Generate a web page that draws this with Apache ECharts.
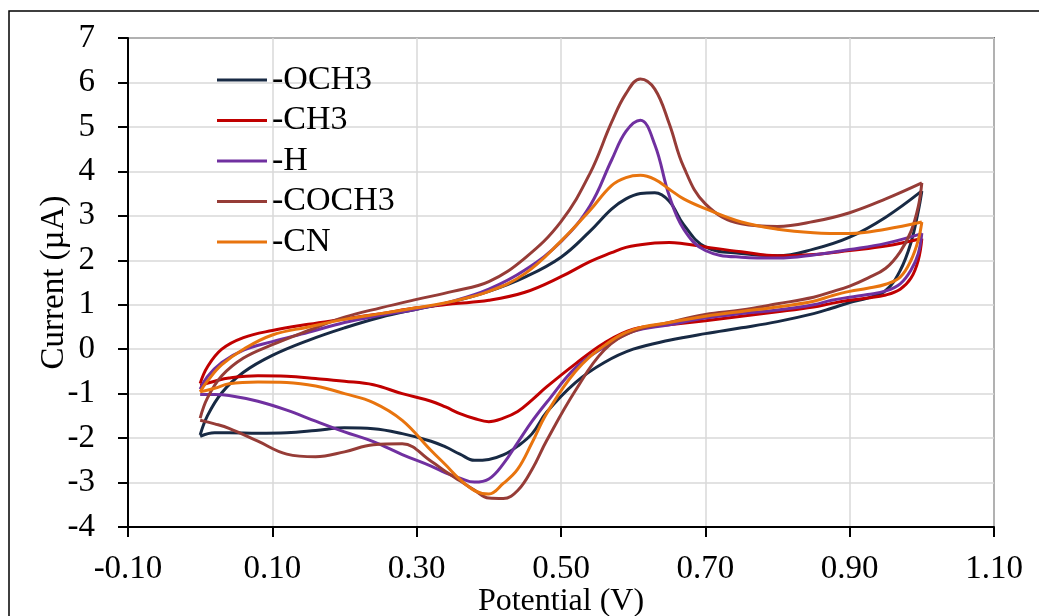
<!DOCTYPE html>
<html>
<head>
<meta charset="utf-8">
<script src="https://cdn.jsdelivr.net/npm/echarts@6/dist/echarts.min.js"></script>
<style>
  html, body { margin: 0; padding: 0; background: #fff; }
  #chart { width: 1039px; height: 616px; }
</style>
</head>
<body>
<div id="chart"></div>
<script>
// potential steps of the forward (oxidation) and reverse sweeps, V
const fwdPotential = [0, 0.01, 0.03, 0.06, 0.1, 0.15, 0.2, 0.25, 0.3, 0.35, 0.4, 0.45, 0.5, 0.54, 0.57, 0.59, 0.61, 0.63, 0.65, 0.67, 0.7, 0.75, 0.8, 0.85, 0.9, 0.95, 1.0];
const revPotential = [1.0, 0.995, 0.985, 0.97, 0.95, 0.925, 0.9, 0.875, 0.85, 0.8, 0.75, 0.7, 0.65, 0.6, 0.56, 0.52, 0.48, 0.46, 0.44, 0.42, 0.4, 0.38, 0.36, 0.34, 0.32, 0.28, 0.24, 0.2, 0.16, 0.12, 0.08, 0.04, 0.02, 0];

// currents, µA
const och3Fwd = [-1.93, -1.5, -0.98, -0.52, -0.14, 0.2, 0.48, 0.72, 0.9, 1.07, 1.3, 1.62, 2.07, 2.65, 3.15, 3.38, 3.5, 3.52, 3.33, 2.8, 2.3, 2.15, 2.1, 2.25, 2.52, 2.97, 3.56];
const och3Rev = [3.56, 3.1, 2.4, 1.77, 1.32, 1.15, 1.05, 0.92, 0.8, 0.62, 0.48, 0.35, 0.2, 0.0, -0.3, -0.75, -1.42, -1.9, -2.18, -2.38, -2.48, -2.5, -2.36, -2.2, -2.07, -1.9, -1.79, -1.77, -1.83, -1.88, -1.89, -1.88, -1.88, -1.96];

const ch3Fwd = [-0.77, -0.4, 0.0, 0.26, 0.42, 0.56, 0.68, 0.8, 0.93, 1.02, 1.1, 1.28, 1.63, 1.97, 2.17, 2.29, 2.35, 2.39, 2.4, 2.37, 2.3, 2.19, 2.1, 2.13, 2.22, 2.32, 2.49];
const ch3Rev = [2.49, 2.0, 1.6, 1.35, 1.22, 1.15, 1.1, 1.03, 0.95, 0.84, 0.74, 0.64, 0.55, 0.45, 0.14, -0.33, -0.85, -1.14, -1.4, -1.55, -1.63, -1.56, -1.45, -1.3, -1.17, -1.0, -0.8, -0.72, -0.66, -0.61, -0.6, -0.65, -0.72, -0.81];

const hFwd = [-0.9, -0.62, -0.3, -0.02, 0.17, 0.38, 0.6, 0.76, 0.9, 1.08, 1.35, 1.78, 2.42, 3.22, 4.25, 4.9, 5.15, 4.6, 3.45, 2.7, 2.22, 2.07, 2.05, 2.12, 2.24, 2.38, 2.6];
const hRev = [2.61, 2.15, 1.78, 1.47, 1.31, 1.23, 1.17, 1.1, 1.0, 0.88, 0.8, 0.7, 0.55, 0.4, 0.05, -0.42, -1.2, -1.62, -2.1, -2.58, -2.92, -2.99, -2.9, -2.78, -2.63, -2.37, -2.08, -1.86, -1.62, -1.37, -1.17, -1.04, -1.02, -1.02];

const coch3Fwd = [-1.55, -1.1, -0.6, -0.2, 0.1, 0.42, 0.72, 0.93, 1.12, 1.3, 1.52, 2.05, 2.87, 3.95, 5.1, 5.75, 6.08, 5.85, 5.07, 4.1, 3.27, 2.82, 2.76, 2.87, 3.07, 3.38, 3.74];
const coch3Rev = [3.74, 3.2, 2.65, 2.19, 1.82, 1.6, 1.42, 1.29, 1.17, 1.02, 0.88, 0.78, 0.6, 0.4, -0.02, -0.93, -2.06, -2.7, -3.18, -3.36, -3.35, -3.17, -2.96, -2.75, -2.52, -2.13, -2.15, -2.31, -2.42, -2.36, -2.07, -1.78, -1.68, -1.6];

const cnFwd = [-0.96, -0.72, -0.35, 0.0, 0.32, 0.5, 0.67, 0.8, 0.93, 1.08, 1.3, 1.7, 2.43, 3.12, 3.68, 3.86, 3.91, 3.82, 3.6, 3.38, 3.16, 2.86, 2.7, 2.62, 2.6, 2.7, 2.86];
const cnRev = [2.86, 2.45, 2.0, 1.62, 1.46, 1.37, 1.3, 1.2, 1.08, 0.95, 0.85, 0.74, 0.6, 0.44, 0.08, -0.5, -1.45, -2.1, -2.7, -3.02, -3.26, -3.18, -2.93, -2.6, -2.28, -1.6, -1.2, -1.0, -0.83, -0.75, -0.74, -0.78, -0.88, -0.96];

const seriesNames = ['-OCH3', '-CH3', '-H', '-COCH3', '-CN'];
const seriesColors = ['#182a44', '#c00000', '#7030a0', '#963c37', '#e8740e'];
const sweeps = [
  [och3Fwd, och3Rev],
  [ch3Fwd, ch3Rev],
  [hFwd, hRev],
  [coch3Fwd, coch3Rev],
  [cnFwd, cnRev]
];

const font = "'Liberation Serif', 'Times New Roman', serif";

const chart = echarts.init(document.getElementById('chart'));

const series = [];
sweeps.forEach((s, k) => {
  [[fwdPotential, s[0]], [revPotential, s[1]]].forEach(pair => {
    series.push({
      name: seriesNames[k],
      type: 'line',
      data: pair[0].map((v, i) => [v, pair[1][i]]),
      smooth: 0.4,
      showSymbol: false,
      color: seriesColors[k],
      lineStyle: { width: 3, color: seriesColors[k] }
    });
  });
});

const option = {
  animation: false,
  backgroundColor: '#fff',
  graphic: [{
    type: 'rect',
    shape: { x: 9, y: 11, width: 1100, height: 700 },
    style: { fill: 'none', stroke: '#000', lineWidth: 1.5 }
  }],
  legend: {
    data: seriesNames,
    orient: 'vertical',
    left: 217,
    top: 60,
    padding: 0,
    itemGap: 0.5,
    itemWidth: 50,
    itemHeight: 3,
    icon: 'rect',
    textStyle: { fontFamily: font, fontSize: 34, color: '#000', lineHeight: 40 }
  },
  grid: {
    left: 128,
    right: 45,
    top: 38,
    bottom: 89,
    outerBoundsMode: 'none',
    show: true,
    borderColor: '#000',
    borderWidth: 1.5
  },
  xAxis: {
    type: 'value',
    min: -0.1,
    max: 1.1,
    interval: 0.2,
    name: 'Potential (V)',
    nameLocation: 'middle',
    nameGap: 59,
    nameMoveOverlap: false,
    nameTextStyle: { fontFamily: font, fontSize: 32, color: '#000' },
    axisLine: { onZero: false, lineStyle: { color: '#000', width: 2 } },
    axisTick: { show: true, length: 10, lineStyle: { color: '#000', width: 2 } },
    axisLabel: {
      fontFamily: font, fontSize: 33, color: '#000', margin: 26,
      formatter: v => v.toFixed(2)
    },
    splitLine: { show: true, lineStyle: { color: '#d9d9d9', width: 1.5 } }
  },
  yAxis: {
    type: 'value',
    min: -4,
    max: 7,
    interval: 1,
    name: 'Current (µA)',
    nameLocation: 'middle',
    nameGap: 57,
    nameMoveOverlap: false,
    nameTextStyle: { fontFamily: font, fontSize: 33, color: '#000' },
    axisLine: { show: true, onZero: false, lineStyle: { color: '#000', width: 2 } },
    axisTick: { show: true, length: 10, lineStyle: { color: '#000', width: 2 } },
    axisLabel: { fontFamily: font, fontSize: 33, color: '#000', margin: 33 },
    splitLine: { show: true, lineStyle: { color: '#d9d9d9', width: 1.5 } }
  },
  series: series
};

chart.setOption(option);
</script>
</body>
</html>
